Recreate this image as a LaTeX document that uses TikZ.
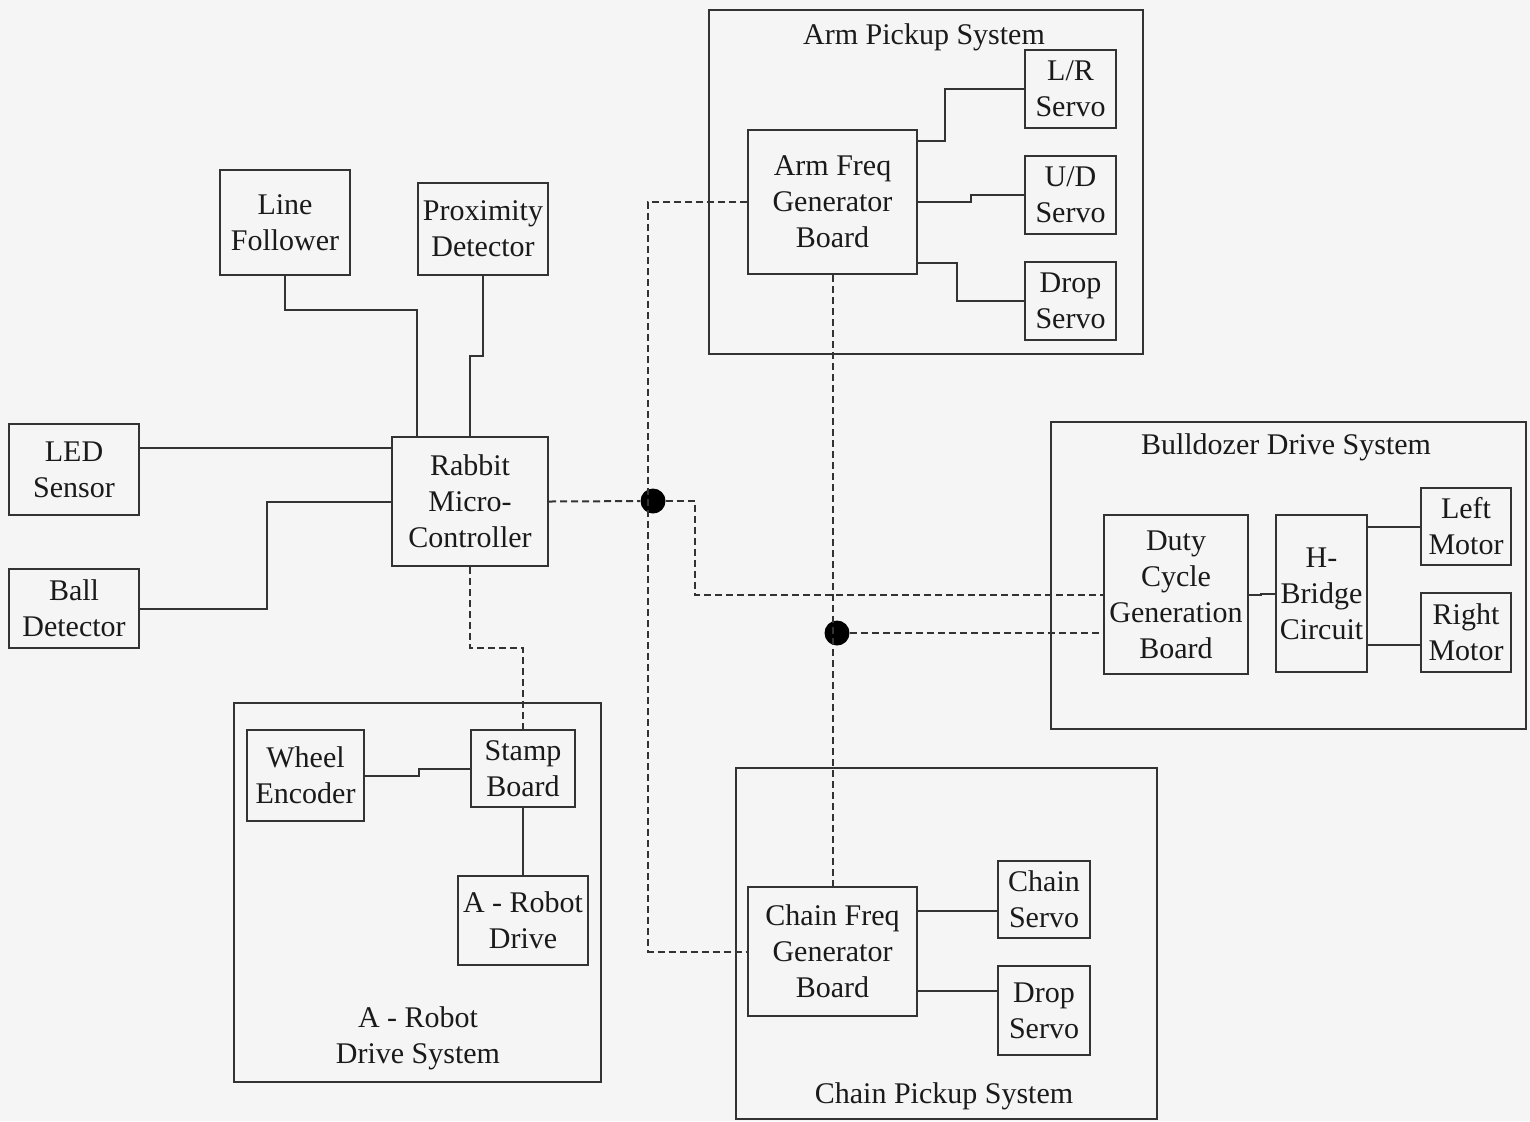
\documentclass[tikz,border=0pt]{standalone}
\usepackage{fontspec}
\setmainfont{Liberation Serif}
\usetikzlibrary{calc}
\definecolor{ink}{HTML}{1A1A1A}
\definecolor{lineC}{HTML}{333333}
\definecolor{paper}{HTML}{F5F5F5}
\tikzset{
  blk/.style={draw=lineC,line width=1pt,align=center,inner sep=0pt,text=ink,font=\fontsize{15}{18}\selectfont},
  grp/.style={draw=lineC,line width=1pt,inner sep=0pt},
  grptitle/.style={text=ink,align=center,inner sep=0pt,font=\fontsize{15}{18}\selectfont},
  wire/.style={draw=lineC,line width=1pt},
  dwire/.style={draw=lineC,line width=1pt,dash pattern=on 3.5pt off 2pt},
  jdot/.style={circle,fill=black,inner sep=0pt,minimum size=12.5pt}}
\begin{document}
\begin{tikzpicture}[x=0.5pt,y=-0.5pt]
\fill[paper] (0,0) rectangle (1530,1121);
\useasboundingbox (0,0) rectangle (1530,1121);
\node[grp,minimum width=217pt,minimum height=172pt] (armsys) at (926,182) {};
\node[grptitle] (armttl) at (924,37) {Arm Pickup System};
\node[grp,minimum width=237.5pt,minimum height=153.5pt] (dozsys) at (1288.5,575.5) {};
\node[grptitle] (dozttl) at (1286,447) {Bulldozer Drive System};
\node[grp,minimum width=183.5pt,minimum height=189.5pt] (drvsys) at (417.5,892.5) {};
\node[grptitle] (drvttl) at (418,1038) {A - Robot\\Drive System};
\node[grp,minimum width=210.5pt,minimum height=175.5pt] (chsys) at (946.5,943.5) {};
\node[grptitle] (chttl) at (944,1096) {Chain Pickup System};
\node[blk,minimum width=65pt,minimum height=52.5pt] (linef) at (285,222.5) {Line\\Follower};
\node[blk,minimum width=65pt,minimum height=46pt] (prox) at (483,229) {Proximity\\Detector};
\node[blk,minimum width=65pt,minimum height=45.5pt] (led) at (74,469.5) {LED\\Sensor};
\node[blk,minimum width=65pt,minimum height=39.5pt] (ball) at (74,608.5) {Ball\\Detector};
\node[blk,minimum width=78pt,minimum height=64.5pt] (rabbit) at (470,501.5) {Rabbit\\Micro-\\Controller};
\node[blk,minimum width=84.5pt,minimum height=72pt] (arm) at (832.5,202) {Arm Freq\\Generator\\Board};
\node[blk,minimum width=45.5pt,minimum height=39pt] (lr) at (1070.5,89) {L/R\\Servo};
\node[blk,minimum width=45.5pt,minimum height=39pt] (ud) at (1070.5,195) {U/D\\Servo};
\node[blk,minimum width=45.5pt,minimum height=39pt] (drop1) at (1070.5,301) {Drop\\Servo};
\node[blk,minimum width=72pt,minimum height=79.5pt] (duty) at (1176,594.5) {Duty\\Cycle\\Generation\\Board};
\node[blk,minimum width=45.5pt,minimum height=78.5pt] (hb) at (1321.5,593.5) {H-\\Bridge\\Circuit};
\node[blk,minimum width=45pt,minimum height=38.5pt] (lm) at (1466,526.5) {Left\\Motor};
\node[blk,minimum width=45pt,minimum height=39.5pt] (rm) at (1466,632.5) {Right\\Motor};
\node[blk,minimum width=58.5pt,minimum height=45.5pt] (wheel) at (305.5,775.5) {Wheel\\Encoder};
\node[blk,minimum width=52pt,minimum height=38.5pt] (stamp) at (523,768.5) {Stamp\\Board};
\node[blk,minimum width=65pt,minimum height=44.5pt] (ard) at (523,920.5) {A - Robot\\Drive};
\node[blk,minimum width=84.5pt,minimum height=64.5pt] (chainb) at (832.5,951.5) {Chain Freq\\Generator\\Board};
\node[blk,minimum width=46pt,minimum height=38.5pt] (cs) at (1044,899.5) {Chain\\Servo};
\node[blk,minimum width=46pt,minimum height=44.5pt] (drop2) at (1044,1010.5) {Drop\\Servo};
\node[jdot] (dotA) at (653,501) {};
\node[jdot] (dotB) at (837,633) {};
\coordinate (ledout) at ([yshift=10.75pt]led.east);
\coordinate (rmin) at ([yshift=-6.25pt]rm.west);
\coordinate (c1) at ([yshift=-12.5pt]chainb.north east);
\coordinate (c2) at ([yshift=13pt]chainb.south east);
\draw[wire] (linef.south) -- ++(0,34) -| ([xshift=13pt]rabbit.north west);
\draw[wire] (prox.south) -- ++(0,80) -| (rabbit.north);
\draw[wire] (ledout) -- (ledout -| rabbit.west);
\draw[wire] (ball.east) -- ++(127,0) |- (rabbit.west);
\draw[wire] ([yshift=-6pt]arm.north east) -- ++(27,0) |- (lr.west);
\draw[wire] (arm.east) -- ++(53,0) |- (ud.west);
\draw[wire] ([yshift=6pt]arm.south east) -- ++(39,0) |- (drop1.west);
\draw[wire] (duty.east) -- ++(12,0) |- (hb.west);
\draw[wire] (lm.west -| hb.east) -- (lm.west);
\draw[wire] (rmin -| hb.east) -- (rmin);
\draw[wire] (wheel.east) -- ++(54,0) |- (stamp.west);
\draw[wire] (stamp.south) -- (ard.north);
\draw[wire] (c1) -- (c1 -| cs.west);
\draw[wire] (c2) -- (c2 -| drop2.west);
\draw[dwire] (rabbit.south) -- ++(0,81) -| (stamp.north);
\draw[dwire] (rabbit.east) -- (dotA);
\draw[dwire] (dotA) -- ++(42,0) |- (duty.west);
\draw[dwire] (arm.west) -- ++(-99,0) |- (chainb.west);
\draw[dwire] (arm.south) -- (chainb.north);
\draw[dwire] (dotB) -- (dotB -| duty.west);
\end{tikzpicture}
\end{document}
